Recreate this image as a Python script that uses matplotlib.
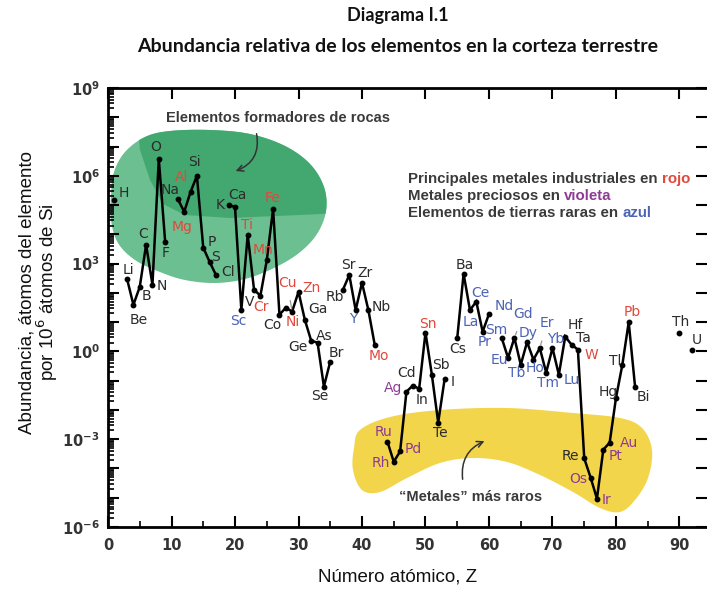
import numpy as np
import matplotlib

matplotlib.use("Agg")
import matplotlib.pyplot as plt
from matplotlib.patches import Polygon, FancyArrowPatch
from matplotlib.ticker import LogLocator, FuncFormatter, MultipleLocator, NullFormatter
from matplotlib.offsetbox import TextArea, HPacker, VPacker, AnnotationBbox

# Abundance in the crust, atoms of element per 10^6 atoms of Si
symbols = [
  "H", "Li", "Be", "B", "C", "N", "O", "F",
  "Na", "Mg", "Al", "Si", "P", "S", "Cl",
  "K", "Ca", "Sc", "Ti", "V", "Cr", "Mn", "Fe", "Co", "Ni", "Cu", "Zn",
  "Ga", "Ge", "As", "Se", "Br",
  "Rb", "Sr", "Y", "Zr", "Nb", "Mo",
  "Ru", "Rh", "Pd", "Ag", "Cd", "In", "Sn", "Sb", "Te", "I",
  "Cs", "Ba", "La", "Ce", "Pr", "Nd",
  "Sm", "Eu", "Gd", "Tb", "Dy", "Ho", "Er", "Tm", "Yb", "Lu",
  "Hf", "Ta", "W", "Re", "Os", "Ir", "Pt", "Au", "Hg", "Tl", "Pb", "Bi",
  "Th", "U",
]
atomic_number = [
  1, 3, 4, 5, 6, 7, 8, 9,
  11, 12, 13, 14, 15, 16, 17,
  19, 20, 21, 22, 23, 24, 25, 26, 27, 28, 29, 30,
  31, 32, 33, 34, 35,
  37, 38, 39, 40, 41, 42,
  44, 45, 46, 47, 48, 49, 50, 51, 52, 53,
  55, 56, 57, 58, 59, 60,
  62, 63, 64, 65, 66, 67, 68, 69, 70, 71,
  72, 73, 74, 75, 76, 77, 78, 79, 80, 81, 82, 83,
  90, 92,
]
abundance = [
  1.5e5, 300, 39, 160, 4400, 190, 3.8e6, 5600,
  1.6e5, 5.9e4, 2.8e5, 1.0e6, 3500, 1150, 410,
  1.0e5, 8.7e4, 26, 9600, 128, 80, 1280, 7.4e4, 18, 31, 23, 109,
  12, 2.3, 2.0, 0.063, 0.45,
  128, 410, 26, 220, 26, 1.7,
  8.3e-4, 1.7e-4, 3.8e-4, 0.042, 0.068, 0.053, 4.4, 0.16, 0.0037, 0.11,
  2.9, 450, 26, 50, 4.7, 19,
  2.9, 0.6, 2.9, 0.35, 2.1, 0.52, 1.3, 0.19, 1.3, 0.16,
  3.2, 1.7, 1.15, 2.2e-4, 4.9e-5, 9.3e-6, 4.4e-4, 7.6e-4, 0.026, 0.35, 10, 0.063,
  4.4, 1.15,
]

industrial = ["Mg", "Al", "Ti", "Cr", "Mn", "Fe", "Ni", "Cu", "Zn", "Mo", "Sn", "W", "Pb"]
precious = ["Ru", "Rh", "Pd", "Ag", "Os", "Ir", "Pt", "Au"]
rare_earths = ["Sc", "Y", "La", "Ce", "Pr", "Nd", "Sm", "Eu", "Gd", "Tb", "Dy",
               "Ho", "Er", "Tm", "Yb", "Lu"]
y_tick_exponents = [9, 6, 3, 0, -3, -6]

RED = "#e2483b"
VIOLET = "#8e3b94"
BLUE = "#4c63b6"
INK = "#2b2b2b"

# label offsets from each point, pixels (right, down)
LABEL_OFFSET = {
  "H": (9, -7), "Li": (1, -9), "Be": (5, 15), "B": (7, 9), "C": (-3, -11),
  "N": (9, 1), "O": (-3, -12), "F": (0, 11), "Na": (-8, -9), "Mg": (-2, 15),
  "Al": (-9, -15), "Si": (-2, -14), "P": (9, -6), "S": (6, -5), "Cl": (12, -3),
  "K": (-9, 0), "Ca": (2, -12), "Sc": (-3, 11), "Ti": (-1, -10), "V": (-4, 12),
  "Cr": (1, 11), "Mn": (-4, -10), "Fe": (-1, -11), "Co": (-7, 10), "Ni": (7, 14),
  "Cu": (-5, -29), "Zn": (13, -4), "Ga": (13, -11), "Ge": (-13, 6), "As": (7, -7),
  "Se": (-4, 9), "Br": (6, -9), "Rb": (-8, 7), "Sr": (-1, -10), "Y": (-2, 9),
  "Zr": (3, -10), "Nb": (13, -3), "Mo": (4, 11), "Ru": (-4, -10), "Rh": (-13, 1),
  "Pd": (13, -2), "Ag": (-13, -4), "Cd": (-6, -13), "In": (3, 11), "Sn": (2, -9),
  "Sb": (9, -10), "Te": (2, 10), "I": (8, 3), "Cs": (0, 11), "Ba": (1, -9),
  "La": (1, 12), "Ce": (4, -9), "Pr": (2, 10), "Nd": (15, -8), "Sm": (-5, -8),
  "Eu": (-9, 2), "Gd": (9, -24), "Tb": (-4, 8), "Dy": (1, -9), "Ho": (2, 8),
  "Er": (7, -25), "Tm": (2, 10), "Yb": (3, -9), "Lu": (13, 5), "Hf": (10, -12),
  "Ta": (12, -7), "W": (14, 5), "Re": (-14, -2), "Os": (-12, 1), "Ir": (10, 1),
  "Pt": (12, 6), "Au": (19, 0), "Hg": (-8, -6), "Tl": (-7, -4), "Pb": (4, -10),
  "Bi": (8, 10), "Th": (1, -11), "U": (5, -10),
}
LEADERS = ["Cu", "Gd", "Er"]

# outlines of the shaded regions, in image pixels
GREEN_OUTLINE = [
  (111, 195), (114, 172), (125, 152), (145, 137), (170, 131), (210, 130),
  (250, 134), (285, 146), (310, 164), (324, 187), (326, 211), (317, 234),
  (299, 253), (274, 268), (245, 279), (215, 283), (185, 280), (160, 272),
  (135, 260), (118, 243), (111, 220),
]
GREEN_DARK = [
  (136, 110), (140, 150), (150, 180), (163, 204), (185, 215), (230, 218),
  (300, 215), (340, 213), (340, 110),
]
YELLOW_OUTLINE = [
  (360, 430), (390, 417), (440, 410), (507, 408), (573, 413), (620, 418),
  (642, 428), (652, 450), (648, 478), (635, 500), (620, 512), (600, 508),
  (573, 492), (540, 475), (507, 462), (473, 458), (440, 463), (407, 478),
  (380, 492), (362, 490), (353, 470), (354, 448),
]

W, H = 707, 589
AX_L, AX_R, AX_T, AX_B = 108, 707, 88, 527
X_MAX = (AX_R - AX_L) / 6.35


def to_data(px, py):
  px = np.asarray(px, float)
  py = np.asarray(py, float)
  z = (px - AX_L) / (AX_R - AX_L) * X_MAX
  e = 9 - (py - AX_T) / (AX_B - AX_T) * 15
  return z, 10 ** e


def smooth_closed(pts, n=24):
  pts = np.asarray(pts, float)
  t = np.linspace(0, 1, n, endpoint=False)[:, None]
  out = []
  for i in range(len(pts)):
    p0, p1, p2, p3 = pts[i - 1], pts[i], pts[(i + 1) % len(pts)], pts[(i + 2) % len(pts)]
    out.append(0.5 * (2 * p1 + (-p0 + p2) * t + (2 * p0 - 5 * p1 + 4 * p2 - p3) * t ** 2
                      + (-p0 + 3 * p1 - 3 * p2 + p3) * t ** 3))
  return np.vstack(out)


def region(pts, smooth=True, **kw):
  pts = smooth_closed(pts) if smooth else np.asarray(pts, float)
  z, v = to_data(pts[:, 0], pts[:, 1])
  return Polygon(np.column_stack([z, v]), closed=True, **kw)


def fig_xy(px, py):
  return px / W, 1 - py / H


plt.rcParams["font.family"] = ["DejaVu Sans"]

fig = plt.figure(figsize=(W / 100, H / 100), dpi=100)
ax = fig.add_axes([AX_L / W, 1 - AX_B / H, (AX_R - AX_L) / W, (AX_B - AX_T) / H])
ax.set_yscale("log")
ax.set_xlim(0, X_MAX)
ax.set_ylim(1e-6, 1e9)

# shaded groups
green = region(GREEN_OUTLINE, facecolor="#6cbf90", edgecolor="none", zorder=0.5)
ax.add_patch(green)
dark = region(GREEN_DARK, smooth=False, facecolor="#43a870", edgecolor="none", zorder=0.6)
ax.add_patch(dark)
dark.set_clip_path(green)
ax.add_patch(region(YELLOW_OUTLINE, facecolor="#f3d54c", edgecolor="none", zorder=0.5))

# connect consecutive atomic numbers, break the line at missing ones
z_arr = np.array(atomic_number)
a_arr = np.array(abundance)
breaks = np.where(np.diff(z_arr) > 1)[0] + 1
for zs, vs in zip(np.split(z_arr, breaks), np.split(a_arr, breaks)):
  ax.plot(zs, vs, color="black", lw=1.8, marker="o", ms=3.2, zorder=2,
          solid_joinstyle="miter")

for sym, z, v in zip(symbols, atomic_number, abundance):
  if sym in industrial:
    color = RED
  elif sym in precious:
    color = VIOLET
  elif sym in rare_earths:
    color = BLUE
  else:
    color = INK
  dx, dy = LABEL_OFFSET[sym]
  arrow = None
  if sym in LEADERS:
    arrow = dict(arrowstyle="-", color="#9a9a9a", lw=0.9, shrinkA=6, shrinkB=2)
  ax.annotate(sym, (z, v), xytext=(dx, -dy), textcoords="offset pixels",
              ha="center", va="center", fontsize=10, color=color, zorder=4,
              arrowprops=arrow)

# annotations for the two groups
ann_font = dict(family="Liberation Sans", fontweight="bold", fontsize=10.5, color="#3a3a3a")
key_font = dict(ann_font, fontsize=10.8)
ax.text(*to_data(278, 118), "Elementos formadores de rocas", ha="center", va="center",
        zorder=5, **ann_font)
ax.add_patch(FancyArrowPatch(to_data(256, 131), to_data(233, 172),
                             connectionstyle="arc3,rad=-0.45", arrowstyle="->",
                             mutation_scale=11, lw=1.1, color="#333333", zorder=5))
ax.text(*to_data(471, 497), "\u201cMetales\u201d más raros", ha="center", va="center",
        zorder=5, **ann_font)
ax.add_patch(FancyArrowPatch(to_data(463, 482), to_data(487, 440),
                             connectionstyle="arc3,rad=-0.4", arrowstyle="->",
                             mutation_scale=11, lw=1.1, color="#333333", zorder=5))

# colour key
key_lines = [
  ("Principales metales industriales en", "rojo", RED),
  ("Metales preciosos en", "violeta", VIOLET),
  ("Elementos de tierras raras en", "azul", BLUE),
]
rows = []
for text, word, color in key_lines:
  rows.append(HPacker(children=[
    TextArea(text, textprops=key_font),
    TextArea(word, textprops=dict(key_font, color=color)),
  ], sep=3, pad=0, align="baseline"))
key = VPacker(children=rows, sep=2, pad=0, align="left")
ax.add_artist(AnnotationBbox(key, fig_xy(408, 196), xycoords="figure fraction",
                             box_alignment=(0, 0.5), frameon=False, pad=0, zorder=5))

# axes styling
for side in ("left", "bottom", "top"):
  ax.spines[side].set_linewidth(2)
ax.spines["right"].set_visible(False)

ax.xaxis.set_major_locator(MultipleLocator(10))
ax.xaxis.set_minor_locator(MultipleLocator(5))
ax.yaxis.set_major_locator(LogLocator(base=10, numticks=30))
ax.yaxis.set_minor_locator(LogLocator(base=10, subs=np.arange(2, 10), numticks=300))
ax.yaxis.set_major_formatter(FuncFormatter(
  lambda v, _: r"$\mathbf{10^{%d}}$" % round(np.log10(v))
  if round(np.log10(v)) in y_tick_exponents else ""))
ax.yaxis.set_minor_formatter(NullFormatter())

ax.tick_params(which="major", direction="in", length=8, width=1.5,
               top=True, right=True, colors="black")
ax.tick_params(which="minor", direction="in", length=4, width=1.2, top=False, right=False)
ax.tick_params(axis="x", which="major", pad=8, labelsize=10.5, labelcolor="#333333")
ax.tick_params(axis="y", which="major", pad=6, labelsize=10.5, labelcolor="#333333")
for lab in ax.get_xticklabels():
  lab.set_fontweight("bold")

fig.text(*fig_xy(398, 577), "Número atómico, Z", ha="center", va="center",
         fontsize=13.5, family="Liberation Sans", color="#111111")
fig.text(*fig_xy(39, 292), "Abundancia, átomos del elemento\npor 10$^6$ átomos de Si",
         ha="center", va="center", rotation=90, fontsize=13.5, family="Liberation Sans",
         color="#111111", linespacing=0.95)

fig.text(*fig_xy(398, 16), "Diagrama I.1", ha="center", va="center",
         fontsize=13, fontweight="bold", family="Lato", color="#111111")
fig.text(*fig_xy(398, 46), "Abundancia relativa de los elementos en la corteza terrestre",
         ha="center", va="center", fontsize=14, fontweight="bold", family="Lato",
         color="#111111")

fig.savefig("out.png", dpi=100)
